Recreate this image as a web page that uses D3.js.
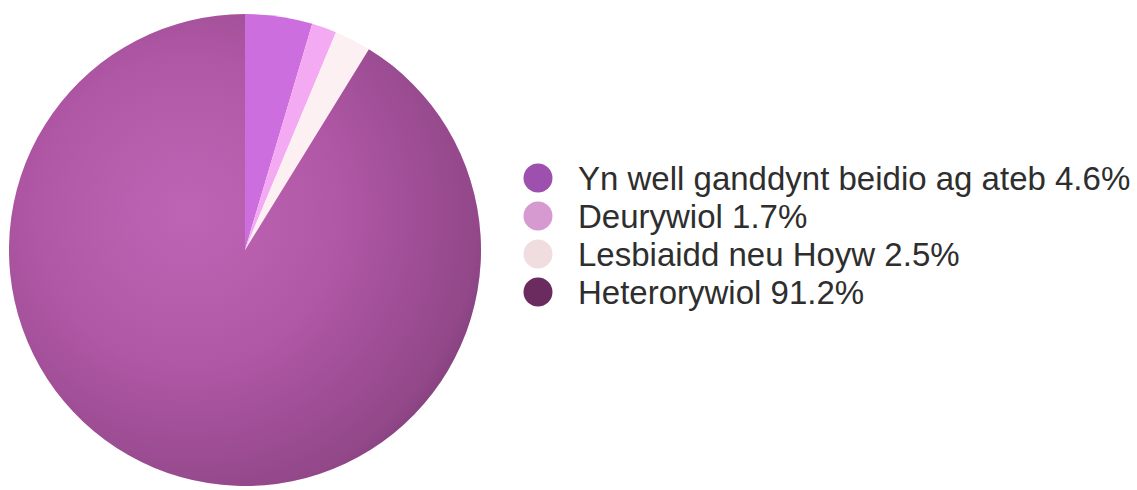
<!DOCTYPE html>
<html><head><meta charset="utf-8">
<script src="https://cdn.jsdelivr.net/npm/d3@7"></script>
<style>body{margin:0;background:#fff}svg{display:block}</style>
</head><body>
<script>
const categories = ["Yn well ganddynt beidio ag ateb", "Deurywiol", "Lesbiaidd neu Hoyw", "Heterorywiol"];
const values = [4.6, 1.7, 2.5, 91.2];
const labels = ["4.6%", "1.7%", "2.5%", "91.2%"];
const sliceColors = ["#cc6ede", "#f4aaf2", "#fcf0f2", "#bb5cb0"];
const legendColors = ["#9d50ae", "#d699d0", "#f0dde0", "#6b2b5e"];

const W = 1137, H = 490;
const svg = d3.select("body").append("svg").attr("width", W).attr("height", H);
const defs = svg.append("defs");
const cx = 245, cy = 250, R = 236;

const g = svg.append("g").attr("transform", `translate(${cx},${cy})`);
const pie = d3.pie().sort(null).value(d => d)(values);
const arc = d3.arc().innerRadius(0).outerRadius(R);

function shade(id, stops) {
  const rg = defs.append("radialGradient").attr("id", id)
    .attr("cx", -0.24 * R).attr("cy", -0.16 * R).attr("r", 1.44 * R)
    .attr("gradientUnits", "userSpaceOnUse");
  stops.forEach(s => rg.append("stop").attr("offset", s[0]).attr("stop-color", s[1]).attr("stop-opacity", s[2]));
}
shade("shade", [[0, "#ffffff", 0.05], [0.45, "#000000", 0.06], [0.85, "#000000", 0.22], [1, "#000000", 0.38]]);
shade("shade2", [[0, "#ffffff", 0], [0.7, "#000000", 0], [1, "#000000", 0.1]]);

g.selectAll("path.s").data(pie).join("path").attr("class", "s")
  .attr("d", arc).attr("fill", (d, i) => sliceColors[i]);
g.selectAll("path.o").data(pie).join("path").attr("class", "o")
  .attr("d", arc)
  .attr("fill", (d, i) => i === 3 ? "url(#shade)" : "url(#shade2)");

const leg = svg.append("g").attr("transform", "translate(538,178)");
const rows = leg.selectAll("g").data(categories).join("g")
  .attr("transform", (d, i) => `translate(0,${i * 38})`);
rows.append("circle").attr("r", 14.5).attr("fill", (d, i) => legendColors[i]);
rows.append("text").attr("x", 40).attr("dy", "0.36em")
  .attr("font-family", "Liberation Sans, Arial, sans-serif").attr("font-size", 33)
  .attr("fill", "#2e2e2e").text((d, i) => `${d} ${labels[i]}`);
</script>
</body></html>
